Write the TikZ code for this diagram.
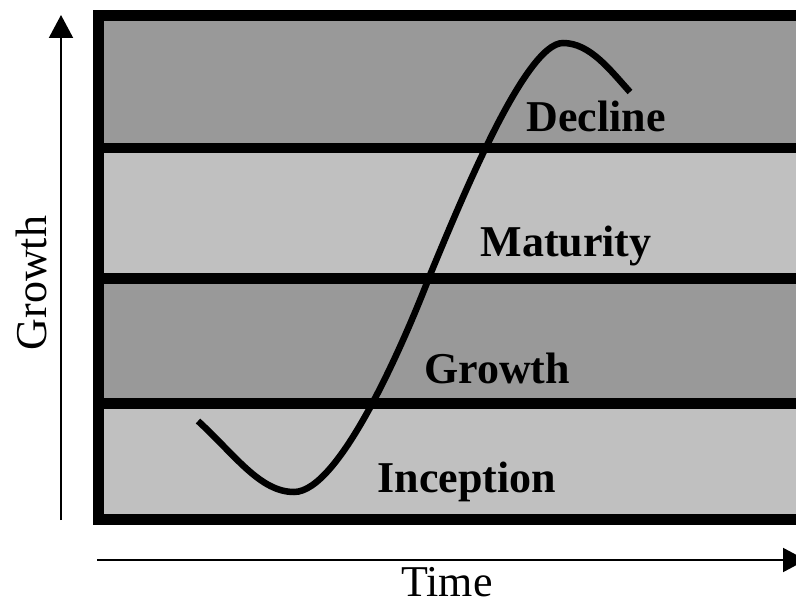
\documentclass[tikz,border=0pt]{standalone}
\usepackage{fontspec}
\setmainfont{Liberation Serif}
\usepackage{xcolor}
\usetikzlibrary{arrows.meta}
\definecolor{bandDark}{HTML}{999999}
\definecolor{bandLight}{HTML}{C0C0C0}

\begin{document}
\begin{tikzpicture}[x=1pt, y=-1pt, every node/.style={inner sep=0pt}]
		\useasboundingbox (0,0) rectangle (796,604);
		\newcommand{\bxL}{98.5}
		\newcommand{\bxR}{812}
		\newcommand{\bxT}{15.5}
		\newcommand{\bxB}{519.5}
		\newcommand{\labfont}{\fontsize{44}{50}\selectfont}
		\coordinate (TL) at (\bxL,\bxT);
		\coordinate (BR) at (\bxR,\bxB);
		\coordinate (D1L) at (\bxL,148);
		\coordinate (D1R) at (\bxR,148);
		\coordinate (D2L) at (\bxL,278.5);
		\coordinate (D2R) at (\bxR,278.5);
		\coordinate (D3L) at (\bxL,403.5);
		\coordinate (D3R) at (\bxR,403.5);
		
		% bands
		\fill[bandDark] (TL) rectangle (D1R);
		\fill[bandLight] (D1L) rectangle (D2R);
		\fill[bandDark] (D2L) rectangle (D3R);
		\fill[bandLight] (D3L) rectangle (BR);
		\draw[line width=10.5pt] (D1L) -- (D1R);
		\draw[line width=10.5pt] (D2L) -- (D2R);
		\draw[line width=10.5pt] (D3L) -- (D3R);
		\draw[line width=11pt] (TL) rectangle (BR);
		
		% life cycle curve
		\draw[line width=6.5pt] (198,421) .. controls (235,455) and (260,492) .. (294,492)
			.. controls (340,492) and (405,340) .. (430,275)
			.. controls (460,203) and (525,43) .. (563,43)
			.. controls (590,43) and (610,70) .. (630,92);
		
		% stage labels
		\node[anchor=base, font=\labfont\bfseries] (decline) at (596,132) {Decline};
		\node[anchor=base, font=\labfont\bfseries] (maturity) at (566,257) {Maturity};
		\node[anchor=base, font=\labfont\bfseries] (growth) at (497,384) {Growth};
		\node[anchor=base, font=\labfont\bfseries] (inception) at (467,492) {Inception};
		
		% axes
		\coordinate (yS) at (61,520);
		\coordinate (yE) at (61,15);
		\coordinate (xS) at (97,560);
		\coordinate (xE) at (806,560);
		\draw[line width=2pt, -{Triangle[length=23pt,width=24pt]}] (yS) -- (yE);
		\draw[line width=2pt, -{Triangle[length=23pt,width=24pt]}] (xS) -- (xE);
		\node[anchor=base, rotate=90, font=\labfont] (ylab) at (46,283) {Growth};
		\node[anchor=base, font=\labfont] (xlab) at (447,596) {Time};
	\end{tikzpicture}
\end{document}
